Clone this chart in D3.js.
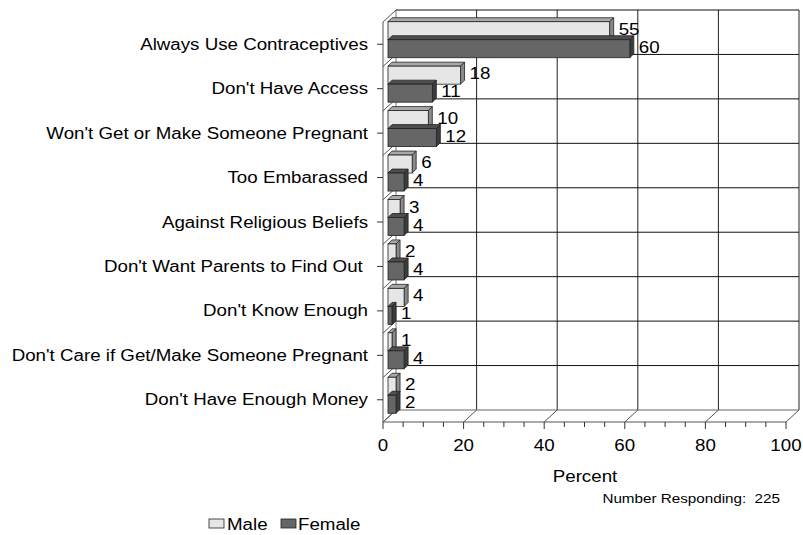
<!DOCTYPE html>
<html><head><meta charset="utf-8">
<script src="https://cdn.jsdelivr.net/npm/d3@7"></script>
<style>body{margin:0;background:#fff}svg{display:block}text{font-family:"Liberation Sans",Arial,sans-serif;fill:#000}</style>
</head><body><svg id="c" width="803" height="535"></svg>
<script>
const categories = ["Always Use Contraceptives","Don't Have Access","Won't Get or Make Someone Pregnant","Too Embarassed","Against Religious Beliefs","Don't Want Parents to Find Out ","Don't Know Enough","Don't Care if Get/Make Someone Pregnant","Don't Have Enough Money"];
const male = [55,18,10,6,3,2,4,1,2];
const female = [60,11,12,4,4,4,1,4,2];
const xTicks = [0,20,40,60,80,100];
const seriesNames = ["Male","Female"];

const svg = d3.select("#c");
const SX = 1.17;
function stretch(sel){ sel.each(function(){ const w=this.getComputedTextLength(); d3.select(this).attr("textLength", w*SX).attr("lengthAdjust","spacingAndGlyphs"); }); }

const x = d3.scaleLinear().domain([0,100]).range([383,786]);
const y = d3.scaleBand().domain(categories).range([22,422]);
const DX = 13, DY = -12; // wall depth
const BX = 5, BY = -4.5, BD = 4, BH = 18; // bar offset/depth/height
const bw = y.bandwidth();

// back wall
svg.append("rect").attr("x",x(0)+DX).attr("y",y.range()[0]+DY).attr("width",x(100)-x(0)).attr("height",y.range()[1]-y.range()[0]).attr("fill","#fff").attr("stroke","none");
const g = svg.append("g");
// vertical gridlines on back wall
g.selectAll(".vg").data(xTicks).join("line").attr("x1",d=>x(d)+DX).attr("x2",d=>x(d)+DX)
 .attr("y1",22+DY).attr("y2",422+DY).attr("stroke",d=>d===0?"#777":"#222").attr("stroke-width",1);
// horizontal gridlines on back wall + left wall diagonals
const bounds = d3.range(categories.length+1).map(i=>22+i*bw);
g.selectAll(".hg").data(bounds).join("line").attr("x1",x(0)+DX).attr("x2",x(100)+DX)
 .attr("y1",d=>d+DY).attr("y2",d=>d+DY).attr("stroke",(d,i)=>i===categories.length?"#666":"#111");
g.selectAll(".ld").data(bounds).join("line").attr("x1",x(0)).attr("x2",x(0)+DX)
 .attr("y1",d=>d).attr("y2",d=>d+DY).attr("stroke","#555");
// floor
g.append("line").attr("x1",x(0)).attr("x2",x(100)).attr("y1",422).attr("y2",422).attr("stroke","#555");
g.selectAll(".fd").data(xTicks).join("line").attr("x1",d=>x(d)).attr("x2",d=>x(d)+DX)
 .attr("y1",422).attr("y2",422+DY).attr("stroke","#555");
// left axis line
g.append("line").attr("x1",x(0)).attr("x2",x(0)).attr("y1",22).attr("y2",422).attr("stroke","#555");

// bars
const colors = {Male:{front:"#e6e6e6",top:"#a8a8a8",side:"#8a8a8a"},Female:{front:"#666666",top:"#4e4e4e",side:"#3c3c3c"}};
const rows = [];
categories.forEach((c,i)=>{ rows.push({cat:c,s:"Male",v:male[i],off:-BH}); rows.push({cat:c,s:"Female",v:female[i],off:0}); });
const bars = svg.append("g").selectAll("g").data(rows).join("g");
bars.each(function(d){
  const gg = d3.select(this);
  const x0 = x(0)+BX, w = x(d.v)-x(0);
  const cy = y(d.cat)+bw/2+BY;
  const t = cy+d.off, h = BH;
  const col = colors[d.s];
  gg.append("polygon").attr("points",[[x0,t],[x0+BD,t-BD],[x0+w+BD,t-BD],[x0+w,t]].join(" ")).attr("fill",col.top).attr("stroke","#222").attr("stroke-width",0.8);
  gg.append("polygon").attr("points",[[x0+w,t],[x0+w+BD,t-BD],[x0+w+BD,t+h-BD],[x0+w,t+h]].join(" ")).attr("fill",col.side).attr("stroke","#222").attr("stroke-width",0.8);
  gg.append("rect").attr("x",x0).attr("y",t).attr("width",w).attr("height",h).attr("fill",col.front).attr("stroke","#222").attr("stroke-width",0.8);
  gg.append("text").attr("x",x0+w+BD+5).attr("y",t+h/2-1.5).attr("dominant-baseline","central").attr("font-size",16).text(d.v).call(stretch);
});

// left ticks and category labels
svg.append("g").selectAll("line").data(categories).join("line").attr("x1",377).attr("x2",383)
 .attr("y1",d=>y(d)+bw/2).attr("y2",d=>y(d)+bw/2).attr("stroke","#333");
svg.append("g").selectAll("text").data(categories).join("text").attr("x",368).attr("y",d=>y(d)+bw/2)
 .attr("text-anchor","end").attr("dominant-baseline","central").attr("font-size",16).style("white-space","pre").text(d=>d).call(stretch);

// bottom ticks
const minor = d3.range(0,101,5);
svg.append("g").selectAll("line").data(minor).join("line").attr("x1",d=>x(d)).attr("x2",d=>x(d))
 .attr("y1",422).attr("y2",d=>d%20===0?429:427).attr("stroke","#333");
svg.append("g").selectAll("text").data(xTicks).join("text").attr("x",d=>x(d)).attr("y",445)
 .attr("text-anchor","middle").attr("dominant-baseline","central").attr("font-size",16).text(d=>d).call(stretch);

svg.append("text").attr("x",585).attr("y",476).attr("text-anchor","middle").attr("dominant-baseline","central").attr("font-size",16).text("Percent").call(stretch);
svg.append("text").attr("x",780).attr("y",498).attr("text-anchor","end").attr("dominant-baseline","central").attr("font-size",13).style("white-space","pre").text("Number Responding:  225").call(stretch);

// legend
const leg = [{n:seriesNames[0],bx:209,tx:227},{n:seriesNames[1],bx:281,tx:298}];
const lg = svg.append("g").selectAll("g").data(leg).join("g");
lg.append("rect").attr("x",d=>d.bx).attr("y",519).attr("width",15).attr("height",9).attr("fill",d=>colors[d.n].front).attr("stroke","#222").attr("stroke-width",0.8);
lg.append("text").attr("x",d=>d.tx).attr("y",524).attr("dominant-baseline","central").attr("font-size",16).text(d=>d.n).call(stretch);
</script></body></html>
